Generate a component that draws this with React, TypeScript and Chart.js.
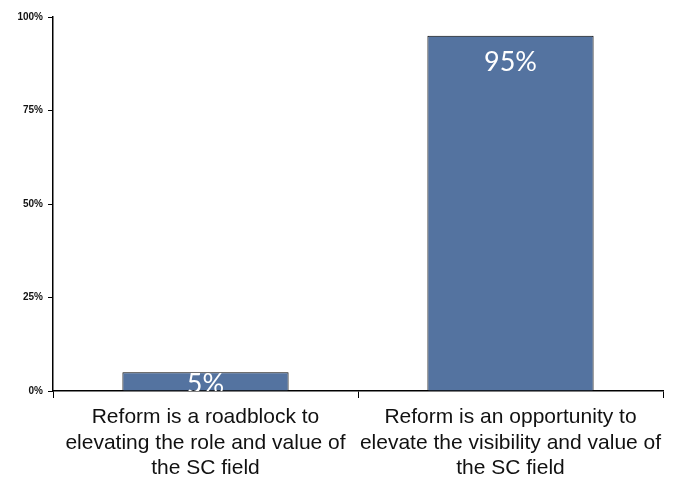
import React, { useEffect, useRef } from "react";
import { Chart, registerables } from "chart.js";

Chart.register(...registerables);

const categories: string[][] = [
  ["Reform is a roadblock to", "elevating the role and value of", "the SC field"],
  ["Reform is an opportunity to", "elevate the visibility and value of", "the SC field"],
];
const values: number[] = [5, 95];
const yTicks: number[] = [0, 25, 50, 75, 100];

const labelPlugin = {
  id: "barLabels",
  afterDatasetsDraw(chart: any) {
    const ctx = chart.ctx;
    const area = chart.chartArea;
    const meta = chart.getDatasetMeta(0);
    ctx.save();
    ctx.beginPath();
    ctx.rect(area.left, area.top, area.right - area.left, area.bottom - area.top);
    ctx.clip();
    ctx.fillStyle = "#ffffff";
    ctx.font = "400 27px Lato, 'DejaVu Sans', sans-serif";
    ctx.textAlign = "center";
    ctx.textBaseline = "middle";
    meta.data.forEach((bar: any, i: number) => {
      const top = bar.y;
      const bottom = bar.base;
      const y = Math.min(top + 27, (top + bottom) / 2 + 3);
      ctx.fillText(values[i] + "%", bar.x, y);
    });
    ctx.restore();
  },
};

export default function App() {
  const ref = useRef<HTMLCanvasElement | null>(null);
  useEffect(() => {
    document.body.style.margin = "0";
    const chart = new Chart(ref.current as HTMLCanvasElement, {
      type: "bar",
      data: {
        labels: categories,
        datasets: [
          {
            data: values,
            backgroundColor: "#5473A0",
            borderColor: "#000000",
            borderWidth: 1,
            categoryPercentage: 1,
            barPercentage: 0.545,
          },
        ],
      },
      plugins: [labelPlugin],
      options: {
        animation: false,
        responsive: false,
        maintainAspectRatio: false,
        layout: { padding: { top: 17, right: 18, left: 0, bottom: 0 } },
        plugins: { legend: { display: false }, tooltip: { enabled: false } },
        scales: {
          x: {
            offset: true,
            grid: {
              offset: true,
              drawOnChartArea: false,
              tickLength: 7,
              color: "#000000",
            },
            border: { color: "#000000", width: 1.5 },
            ticks: {
              color: "#111111",
              font: { family: "'Liberation Sans', Arial", size: 21, lineHeight: 1.2 },
              padding: 7,
              maxRotation: 0,
              autoSkip: false,
            },
            afterFit(scale: any) {
              scale.height = 96;
            },
          },
          y: {
            min: 0,
            max: 100,
            afterBuildTicks(scale: any) {
              scale.ticks = yTicks.map((v) => ({ value: v }));
            },
            grid: {
              drawOnChartArea: false,
              tickLength: 5,
              color: "#000000",
            },
            border: { color: "#000000", width: 1.5 },
            ticks: {
              color: "#111111",
              font: { family: "'Liberation Sans', Arial", size: 10, weight: "bold" },
              padding: 5,
              callback: (v: any) => v + "%",
            },
            afterFit(scale: any) {
              scale.width = 53;
            },
          },
        },
      },
    });
    return () => chart.destroy();
  }, []);
  return (
    <div style={{ width: 681, height: 487, position: "relative" }}>
      <canvas ref={ref} width={681} height={487} style={{ width: 681, height: 487, display: "block" }} />
    </div>
  );
}
